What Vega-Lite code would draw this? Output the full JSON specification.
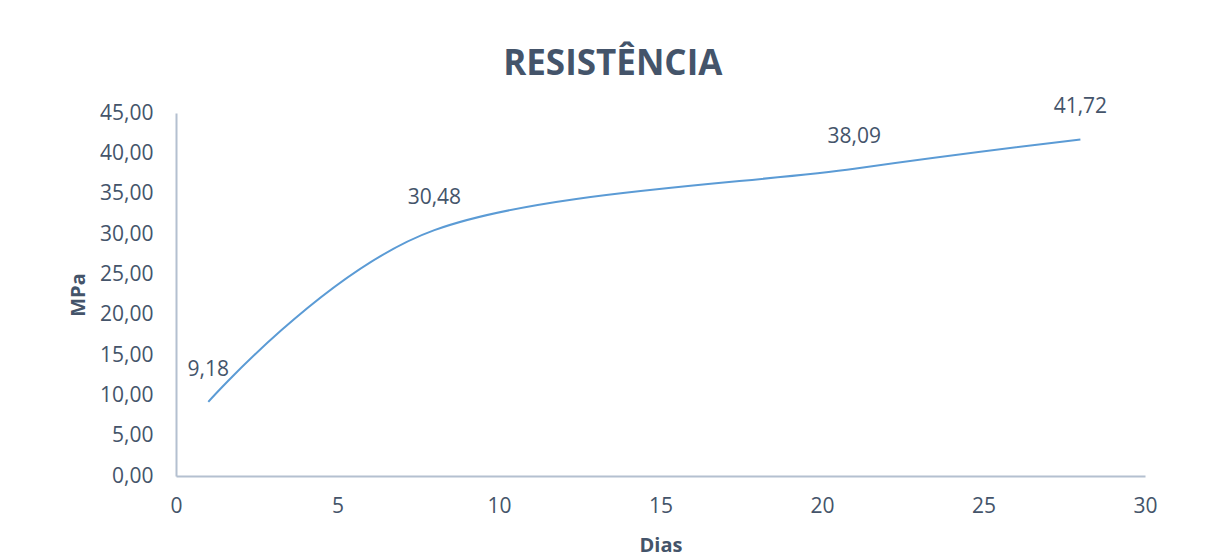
{
  "$schema": "https://vega.github.io/schema/vega-lite/v6.json",
  "autosize": "none",
  "width": 969,
  "height": 363,
  "padding": {"left": 176, "top": 113, "right": 61, "bottom": 83},
  "background": "white",
  "config": {
    "locale": {"number": {"decimal": ",", "thousands": ".", "grouping": [3], "currency": ["R$", ""]}},
    "view": {"stroke": null},
    "font": "Open Sans"
  },
  "title": {
    "text": "RESISTÊNCIA",
    "fontSize": 35,
    "fontWeight": "bold",
    "color": "#44546A",
    "font": "Open Sans",
    "anchor": "middle",
    "frame": "bounds",
    "offset": 14
  },
  "data": {
    "values": [
      {"dias": 1, "mpa": 9.18},
      {"dias": 8, "mpa": 30.48},
      {"dias": 21, "mpa": 38.09},
      {"dias": 28, "mpa": 41.72}
    ]
  },
  "encoding": {
    "x": {
      "field": "dias",
      "type": "quantitative",
      "scale": {"domain": [0, 30], "nice": false},
      "axis": {
        "title": "Dias",
        "values": [0, 5, 10, 15, 20, 25, 30],
        "format": "d",
        "grid": false,
        "ticks": false,
        "labelFlush": false,
        "domainColor": "#B4C0D0",
        "domainWidth": 2,
        "labelFontSize": 21,
        "labelColor": "#44546A",
        "labelPadding": 19,
        "labelFont": "Open Sans",
        "titleFont": "Open Sans",
        "titleFontSize": 20,
        "titleFontWeight": "bold",
        "titleColor": "#44546A",
        "titlePadding": 19
      }
    },
    "y": {
      "field": "mpa",
      "type": "quantitative",
      "scale": {"domain": [0, 45], "nice": false},
      "axis": {
        "title": "MPa",
        "values": [0, 5, 10, 15, 20, 25, 30, 35, 40, 45],
        "format": ".2f",
        "grid": false,
        "ticks": false,
        "labelFlush": false,
        "domainColor": "#B4C0D0",
        "domainWidth": 2,
        "labelFontSize": 21,
        "labelColor": "#44546A",
        "labelPadding": 23,
        "labelFont": "Open Sans",
        "titleFont": "Open Sans",
        "titleFontSize": 20,
        "titleFontWeight": "bold",
        "titleColor": "#44546A",
        "titlePadding": 11
      }
    }
  },
  "layer": [
    {
      "mark": {"type": "line", "interpolate": "cardinal", "color": "#5B9BD5", "strokeWidth": 2}
    },
    {
      "mark": {"type": "text", "dy": -32, "fontSize": 21, "color": "#44546A", "font": "Open Sans"},
      "encoding": {"text": {"field": "mpa", "type": "quantitative", "format": ".2f"}}
    }
  ]
}
